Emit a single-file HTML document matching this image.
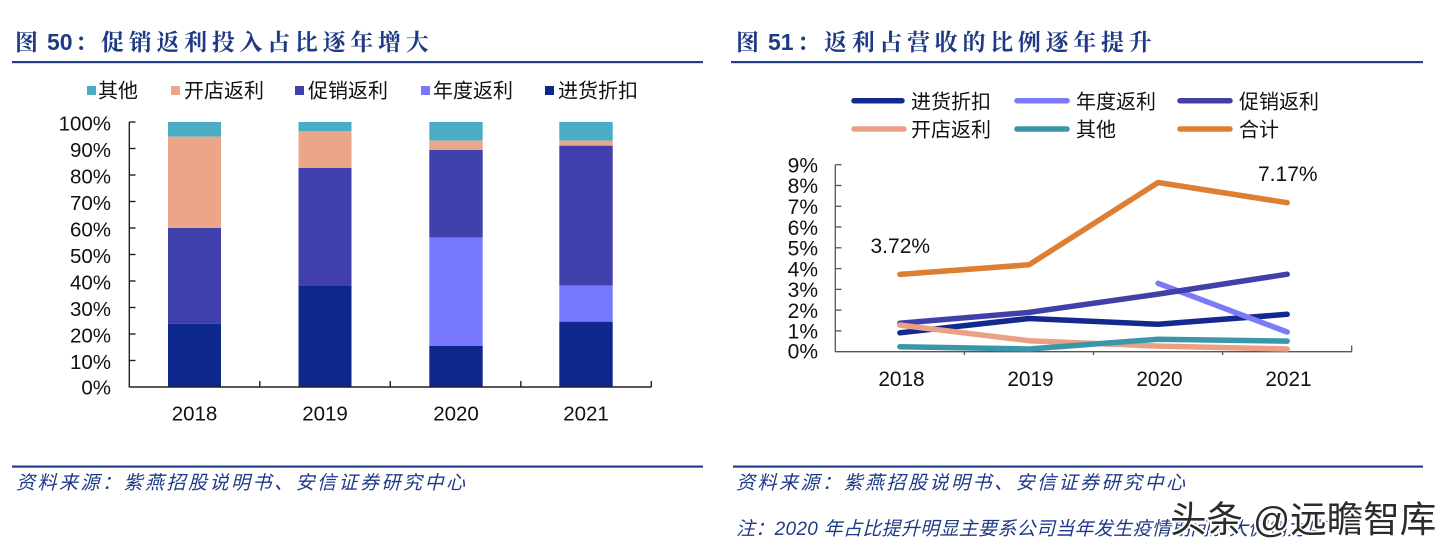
<!DOCTYPE html>
<html><head><meta charset="utf-8"><style>
html,body{margin:0;padding:0;background:#fff;}
svg{display:block;}
</style></head><body>
<svg width="1454" height="552" viewBox="0 0 1454 552" xmlns="http://www.w3.org/2000/svg">
<rect width="1454" height="552" fill="#fff"/>

<!-- ===== LEFT TITLE ===== -->
<g fill="#1F3A84" font-weight="bold">
<text x="15" y="50" font-size="23" font-family="'Noto Serif CJK SC', serif">图</text>
<text x="47" y="50" font-size="23" font-family="'Liberation Sans', sans-serif">50</text>
<text x="75" y="50" font-size="23" font-family="'Noto Serif CJK SC', serif">：</text>
<text x="101" y="50" font-size="23" letter-spacing="4.7" font-family="'Noto Serif CJK SC', serif">促销返利投入占比逐年增大</text>
</g>
<rect x="12" y="61" width="691" height="2.2" fill="#203E8C"/>

<!-- ===== RIGHT TITLE ===== -->
<g fill="#1F3A84" font-weight="bold">
<text x="736" y="50" font-size="23" font-family="'Noto Serif CJK SC', serif">图</text>
<text x="768" y="50" font-size="23" font-family="'Liberation Sans', sans-serif">51</text>
<text x="797" y="50" font-size="23" font-family="'Noto Serif CJK SC', serif">：</text>
<text x="824" y="50" font-size="23" letter-spacing="4.7" font-family="'Noto Serif CJK SC', serif">返利占营收的比例逐年提升</text>
</g>
<rect x="731" y="61" width="692" height="2.2" fill="#203E8C"/>

<!-- ===== LEFT LEGEND ===== -->
<g font-size="20" fill="#111" font-family="'Liberation Sans','Noto Sans CJK SC',sans-serif">
<rect x="87" y="86" width="9" height="9" fill="#4BACC6"/><text x="98" y="97.5">其他</text>
<rect x="171" y="86" width="9" height="9" fill="#EBA689"/><text x="184" y="97.5">开店返利</text>
<rect x="295" y="86" width="9" height="9" fill="#4040AC"/><text x="308" y="97.5">促销返利</text>
<rect x="421" y="86" width="9" height="9" fill="#7878FF"/><text x="433" y="97.5">年度返利</text>
<rect x="545" y="86" width="9" height="9" fill="#0E278C"/><text x="558" y="97.5">进货折扣</text>
</g>

<!-- ===== LEFT BARS ===== -->
<rect x="168" y="122" width="53" height="14.7" fill="#4BACC6"/>
<rect x="168" y="136.7" width="53" height="91.3" fill="#EBA689"/>
<rect x="168" y="228" width="53" height="95.7" fill="#4040AC"/>
<rect x="168" y="323.7" width="53" height="63.3" fill="#0E278C"/>

<rect x="298.5" y="122" width="53" height="9" fill="#4BACC6"/>
<rect x="298.5" y="131" width="53" height="37" fill="#EBA689"/>
<rect x="298.5" y="168" width="53" height="118" fill="#4040AC"/>
<rect x="298.5" y="286" width="53" height="101" fill="#0E278C"/>

<rect x="429.3" y="122" width="53.4" height="18.7" fill="#4BACC6"/>
<rect x="429.3" y="140.7" width="53.4" height="9.3" fill="#EBA689"/>
<rect x="429.3" y="150" width="53.4" height="87.7" fill="#4040AC"/>
<rect x="429.3" y="237.7" width="53.4" height="108.3" fill="#7878FF"/>
<rect x="429.3" y="346" width="53.4" height="41" fill="#0E278C"/>

<rect x="559.3" y="122" width="53.4" height="18.7" fill="#4BACC6"/>
<rect x="559.3" y="140.7" width="53.4" height="5" fill="#EBA689"/>
<rect x="559.3" y="145.7" width="53.4" height="140" fill="#4040AC"/>
<rect x="559.3" y="285.7" width="53.4" height="36" fill="#7878FF"/>
<rect x="559.3" y="321.7" width="53.4" height="65.3" fill="#0E278C"/>

<!-- LEFT AXES -->
<g stroke="#222" stroke-width="1.4" fill="none">
<line x1="129.3" y1="122" x2="129.3" y2="387.5"/>
<line x1="129.3" y1="387" x2="651.5" y2="387"/>
<line x1="129.3" y1="122" x2="135.5" y2="122"/>
<line x1="129.3" y1="148.5" x2="135.5" y2="148.5"/>
<line x1="129.3" y1="175" x2="135.5" y2="175"/>
<line x1="129.3" y1="201.5" x2="135.5" y2="201.5"/>
<line x1="129.3" y1="228" x2="135.5" y2="228"/>
<line x1="129.3" y1="254.5" x2="135.5" y2="254.5"/>
<line x1="129.3" y1="281" x2="135.5" y2="281"/>
<line x1="129.3" y1="307.5" x2="135.5" y2="307.5"/>
<line x1="129.3" y1="334" x2="135.5" y2="334"/>
<line x1="129.3" y1="360.5" x2="135.5" y2="360.5"/>
<line x1="259.8" y1="387" x2="259.8" y2="381"/>
<line x1="390.3" y1="387" x2="390.3" y2="381"/>
<line x1="520.8" y1="387" x2="520.8" y2="381"/>
<line x1="651.3" y1="387" x2="651.3" y2="381"/>
</g>
<g font-size="20.5" fill="#111" font-family="'Liberation Sans',sans-serif" text-anchor="end">
<text x="111" y="130.5">100%</text>
<text x="111" y="157">90%</text>
<text x="111" y="183.5">80%</text>
<text x="111" y="210">70%</text>
<text x="111" y="236.5">60%</text>
<text x="111" y="263">50%</text>
<text x="111" y="289.5">40%</text>
<text x="111" y="316">30%</text>
<text x="111" y="342.5">20%</text>
<text x="111" y="369">10%</text>
<text x="111" y="394.5">0%</text>
</g>
<g font-size="20.5" fill="#111" font-family="'Liberation Sans',sans-serif" text-anchor="middle">
<text x="194.5" y="420.7">2018</text>
<text x="325" y="420.7">2019</text>
<text x="456" y="420.7">2020</text>
<text x="586" y="420.7">2021</text>
</g>

<!-- ===== RIGHT LEGEND ===== -->
<g stroke-width="5.5" stroke-linecap="round" fill="none">
<line x1="854" y1="100.7" x2="902" y2="100.7" stroke="#13298E"/>
<line x1="1017" y1="100.7" x2="1067" y2="100.7" stroke="#7B7BF7"/>
<line x1="1180" y1="100.7" x2="1230" y2="100.7" stroke="#4040A8"/>
<line x1="854" y1="129" x2="904" y2="129" stroke="#EBA086"/>
<line x1="1017" y1="129" x2="1067" y2="129" stroke="#3A97AA"/>
<line x1="1180" y1="129" x2="1230" y2="129" stroke="#DC7F33"/>
</g>
<g font-size="20" fill="#111" font-family="'Liberation Sans','Noto Sans CJK SC',sans-serif">
<text x="911" y="108.3">进货折扣</text>
<text x="1076" y="108.3">年度返利</text>
<text x="1239" y="108.3">促销返利</text>
<text x="911" y="136.6">开店返利</text>
<text x="1076" y="136.6">其他</text>
<text x="1239" y="136.6">合计</text>
</g>

<!-- RIGHT AXES -->
<g stroke="#555" stroke-width="1.3" fill="none">
<line x1="835.3" y1="164.7" x2="835.3" y2="352"/>
<line x1="835.3" y1="351.7" x2="1352" y2="351.7"/>
<line x1="835.3" y1="164.7" x2="841.5" y2="164.7"/>
<line x1="835.3" y1="185.5" x2="841.5" y2="185.5"/>
<line x1="835.3" y1="206.3" x2="841.5" y2="206.3"/>
<line x1="835.3" y1="227" x2="841.5" y2="227"/>
<line x1="835.3" y1="247.8" x2="841.5" y2="247.8"/>
<line x1="835.3" y1="268.6" x2="841.5" y2="268.6"/>
<line x1="835.3" y1="289.4" x2="841.5" y2="289.4"/>
<line x1="835.3" y1="310.1" x2="841.5" y2="310.1"/>
<line x1="835.3" y1="330.9" x2="841.5" y2="330.9"/>
<line x1="964.4" y1="351.7" x2="964.4" y2="355"/>
<line x1="1093.5" y1="351.7" x2="1093.5" y2="355"/>
<line x1="1222.6" y1="351.7" x2="1222.6" y2="355"/>
<line x1="1351.7" y1="351.7" x2="1351.7" y2="345.5"/>
</g>

<!-- RIGHT LINES -->
<g stroke-width="5.5" stroke-linecap="round" stroke-linejoin="round" fill="none">
<polyline points="899.9,332.8 1029,318.5 1158.1,324.3 1287.2,314.3" stroke="#13298E"/>
<polyline points="1158.1,283.3 1287.2,332" stroke="#7B7BF7"/>
<polyline points="899.9,323.2 1029,312.4 1158.1,294.1 1287.2,274.2" stroke="#4040A8"/>
<polyline points="899.9,325.1 1029,340.7 1158.1,346.1 1287.2,349" stroke="#EBA086"/>
<polyline points="899.9,346.7 1029,349 1158.1,339.2 1287.2,341.1" stroke="#3A97AA"/>
<polyline points="899.9,274.4 1029,264.8 1158.1,182.5 1287.2,202.7" stroke="#DC7F33"/>
</g>

<g font-size="21" fill="#111" font-family="'Liberation Sans',sans-serif" text-anchor="end">
<text x="818" y="172.5">9%</text>
<text x="818" y="193.2">8%</text>
<text x="818" y="214">7%</text>
<text x="818" y="234.8">6%</text>
<text x="818" y="255.5">5%</text>
<text x="818" y="276.3">4%</text>
<text x="818" y="297.1">3%</text>
<text x="818" y="317.8">2%</text>
<text x="818" y="338.6">1%</text>
<text x="818" y="358.5">0%</text>
</g>
<g font-size="20.8" fill="#111" font-family="'Liberation Sans',sans-serif" text-anchor="middle">
<text x="901.5" y="386">2018</text>
<text x="1030.5" y="386">2019</text>
<text x="1159.5" y="386">2020</text>
<text x="1288.5" y="386">2021</text>
</g>
<g font-size="21" fill="#111" font-family="'Liberation Sans',sans-serif">
<text x="870.5" y="253">3.72%</text>
<text x="1258" y="181">7.17%</text>
</g>

<!-- ===== BOTTOM LINES & SOURCES ===== -->
<rect x="12" y="465.5" width="691" height="2.2" fill="#203E8C"/>
<rect x="733" y="465.5" width="690" height="2.2" fill="#203E8C"/>
<g font-size="19" fill="#1F3A84" font-style="italic" letter-spacing="2.5" font-family="'Liberation Sans','Noto Sans CJK SC',sans-serif">
<text x="16" y="489">资料来源：紫燕招股说明书、安信证券研究中心</text>
<text x="736" y="489">资料来源：紫燕招股说明书、安信证券研究中心</text>
</g>
<text x="736" y="535" font-size="19" fill="#1F3A84" font-style="italic" letter-spacing="0.3" font-family="'Liberation Sans','Noto Sans CJK SC',sans-serif">注：2020 年占比提升明显主要系公司当年发生疫情期间加大促销力度</text>

<!-- watermark -->
<text x="1170" y="532" font-size="36.5" fill="#2b2b2b" stroke="#ffffff" stroke-width="4" paint-order="stroke" stroke-linejoin="round" font-family="'Liberation Sans','Noto Sans CJK SC',sans-serif">头条 @远瞻智库</text>
</svg>
</body></html>
